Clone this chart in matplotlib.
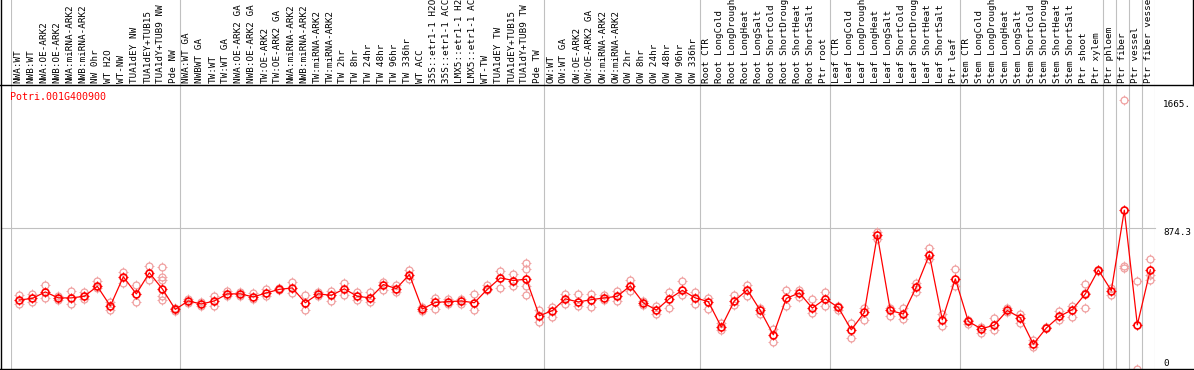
import matplotlib
matplotlib.use('Agg')
import matplotlib.pyplot as plt
from matplotlib.lines import Line2D
from matplotlib.path import Path

# sample labels, grouped as in the chart
labels = [
    'NWA:WT', 'NWB:WT', 'NWA:OE-ARK2', 'NWB:OE-ARK2', 'NWA:miRNA-ARK2', 'NWB:miRNA-ARK2',
    'NW 0hr', 'WT H2O', 'WT-NW', 'TUA1dEY NW', 'TUA1dEY+TUB15', 'TUA1dY+TUB9 NW', 'Pde NW',
    'NWA:WT GA', 'NWBWT GA', 'TW:WT', 'TW:WT GA', 'NWA:OE-ARK2 GA', 'NWB:OE-ARK2 GA',
    'TW:OE-ARK2', 'TW:OE-ARK2 GA', 'NWA:miRNA-ARK2', 'NWB:miRNA-ARK2', 'TW:miRNA-ARK2',
    'TW:miRNA-ARK2', 'TW 2hr', 'TW 8hr', 'TW 24hr', 'TW 48hr', 'TW 96hr', 'TW 336hr', 'WT ACC',
    '35S::etr1-1 H2O', '35S::etr1-1 ACC', 'LMX5::etr1-1 H2O', 'LMX5::etr1-1 ACC', 'WT-TW',
    'TUA1dEY TW', 'TUA1dEY+TUB15', 'TUA1dY+TUB9 TW', 'Pde TW',
    'OW:WT', 'OW:WT GA', 'OW:OE-ARK2', 'OW:OE-ARK2 GA', 'OW:miRNA-ARK2', 'OW:miRNA-ARK2',
    'OW 2hr', 'OW 8hr', 'OW 24hr', 'OW 48hr', 'OW 96hr', 'OW 336hr',
    'Root CTR', 'Root LongCold', 'Root LongDrought', 'Root LongHeat', 'Root LongSalt',
    'Root ShortCold', 'Root ShortDrought', 'Root ShortHeat', 'Root ShortSalt', 'Ptr root',
    'Leaf CTR', 'Leaf LongCold', 'Leaf LongDrought', 'Leaf LongHeat', 'Leaf LongSalt',
    'Leaf ShortCold', 'Leaf ShortDrought', 'Leaf ShortHeat', 'Leaf ShortSalt', 'Ptr leaf',
    'Stem CTR', 'Stem LongCold', 'Stem LongDrought', 'Stem LongHeat', 'Stem LongSalt',
    'Stem ShortCold', 'Stem ShortDrought', 'Stem ShortHeat', 'Stem ShortSalt', 'Ptr shoot',
    'Ptr xylem', 'Ptr phloem', 'Ptr fiber', 'Ptr vessel', 'Ptr fiber vessel',
]
group_sizes = [13, 28, 12, 10, 10, 11, 1, 1, 1, 1]

means = [
    425, 435, 475, 438, 438, 448, 510, 388, 569, 463, 594, 494, 367,
    419, 400, 419, 463, 463, 444, 469, 491, 500, 408, 463, 454, 494, 448, 438, 521, 496,
    583, 369, 410, 415, 419, 408, 491, 562, 546, 554, 327,
    359, 432, 413, 427, 438, 448, 513, 407, 363, 433, 485, 438,
    415, 257, 419, 488, 360, 209, 435, 469, 375, 432,
    379, 240, 348, 828, 360, 338, 506, 706, 302, 556,
    292, 246, 269, 360, 315, 151, 251, 323, 365, 463, 612,
    483, 982, 271, 612,
]

reps = [
    [454, 402], [463, 415], [521, 436], [448, 427], [479, 402], [473, 431], [540, 502],
    [415, 361], [600, 531], [521, 415], [635, 552], [627, 567, 548, 448, 423], [377, 357],
    [431, 406], [413, 390], [452, 390], [483, 452], [473, 452], [469, 431], [496, 448],
    [502, 485], [537, 469], [458, 363], [473, 452], [479, 417], [531, 456], [475, 425],
    [475, 413], [535, 490], [515, 475], [610, 556], [379, 357], [438, 367], [431, 398],
    [431, 398], [460, 365], [521, 490], [604, 500], [587, 510], [656, 618, 510, 458], [365, 290],
    [381, 317], [463, 400], [463, 386], [465, 381], [454, 427], [481, 417], [548, 479],
    [419, 394], [386, 338], [475, 373], [546, 458], [477, 400],
    [440, 371], [282, 236], [454, 392], [517, 448], [375, 340], [244, 167], [485, 390],
    [490, 444], [431, 344], [477, 388],
    [390, 365], [282, 188], [375, 302], [847, 801], [375, 323], [375, 307], [531, 475],
    [745, 677], [340, 261], [618, 510],
    [298, 275], [257, 219], [311, 236], [375, 348], [338, 282], [178, 132], [251, 257],
    [356, 298], [390, 317], [525, 469, 375], [612, 604],
    [500, 458], [1665, 635, 625], [546, 0], [681, 583, 552],
]

gene = 'Potri.001G400900'
yticks = [1665, 874.3, 0]
ytick_text = ['1665.', '874.3', '0']

W, H = 1194, 370
n = len(labels)
mono = 'DejaVu Sans Mono'
grey = '#c0c0c0'
pink = '#f0a0a0'


def fx(px):
    return px / W


def fy(py):
    return 1 - py / H


fig = plt.figure(figsize=(W / 100, H / 100), dpi=100)

# plot area: columns 13 px wide starting at x=11
ax = fig.add_axes([fx(11), fy(368.5), 13 * n / W, (368.5 - 85) / H])
ax.set_xlim(0, n)
ax.set_ylim(0, 1759)
ax.axis('off')

lab = fig.add_axes([fx(11), fy(85), 13 * n / W, 85 / H])
lab.set_xlim(0, n)
lab.set_ylim(0, 85)
lab.axis('off')

# group separators
b = 0
bounds = [0]
for g in group_sizes:
    b += g
    bounds.append(b)
for b in bounds:
    ax.axvline(b, color=grey, lw=0.8, zorder=0)
    lab.axvline(b, color=grey, lw=0.8, zorder=0)

ax.axhline(874.3, xmin=-10 / (13 * n), xmax=1, color=grey, lw=0.8, clip_on=False, zorder=0)

for i, t in enumerate(labels):
    lab.text(i + 0.52, 2, t, rotation=90, ha='center', va='bottom',
             family=mono, fontsize=6.7, clip_on=False)

# little ticks sticking out of each circle
ticks = Path([(0, 1), (0, 1.3), (0, -1), (0, -1.3), (1, 0), (1.3, 0), (-1, 0), (-1.3, 0)],
             [Path.MOVETO, Path.LINETO] * 4)


def circles(xs, ys, col, mew, z):
    ax.plot(xs, ys, ls='none', marker='o', ms=5.0, mfc='none', mec=col, mew=mew,
            clip_on=False, zorder=z)
    ax.plot(xs, ys, ls='none', marker=ticks, ms=6.5, mfc='none', mec=col, mew=mew * 0.7,
            clip_on=False, zorder=z)


xr, yr = [], []
for i, r in enumerate(reps):
    xr += [i + 0.64] * len(r)
    yr += r
circles(xr, yr, pink, 0.9, 2)

xm = [i + 0.64 for i in range(n)]
ax.plot(xm, means, color='red', lw=0.9, zorder=3)
circles(xm, means, 'red', 1.2, 4)

for v, t in zip(yticks, ytick_text):
    ax.text(n + 8 / 13, v, t, ha='left', va='bottom' if v == 0 else 'top',
            family=mono, fontsize=6.7, clip_on=False)

fig.text(fx(10), fy(97), gene, color='red', ha='left', va='center', family=mono, fontsize=7.2)

# frame lines
fig.add_artist(Line2D([fx(1), fx(1)], [0, 1], color='black', lw=1, transform=fig.transFigure))
fig.add_artist(Line2D([0, 1], [fy(85), fy(85)], color='black', lw=1, transform=fig.transFigure))
fig.add_artist(Line2D([fx(1193), fx(1193)], [fy(85), 1], color='black', lw=1, transform=fig.transFigure))
fig.add_artist(Line2D([0, 1], [fy(369), fy(369)], color='black', lw=1, transform=fig.transFigure))

fig.savefig('out.png', dpi=100)
